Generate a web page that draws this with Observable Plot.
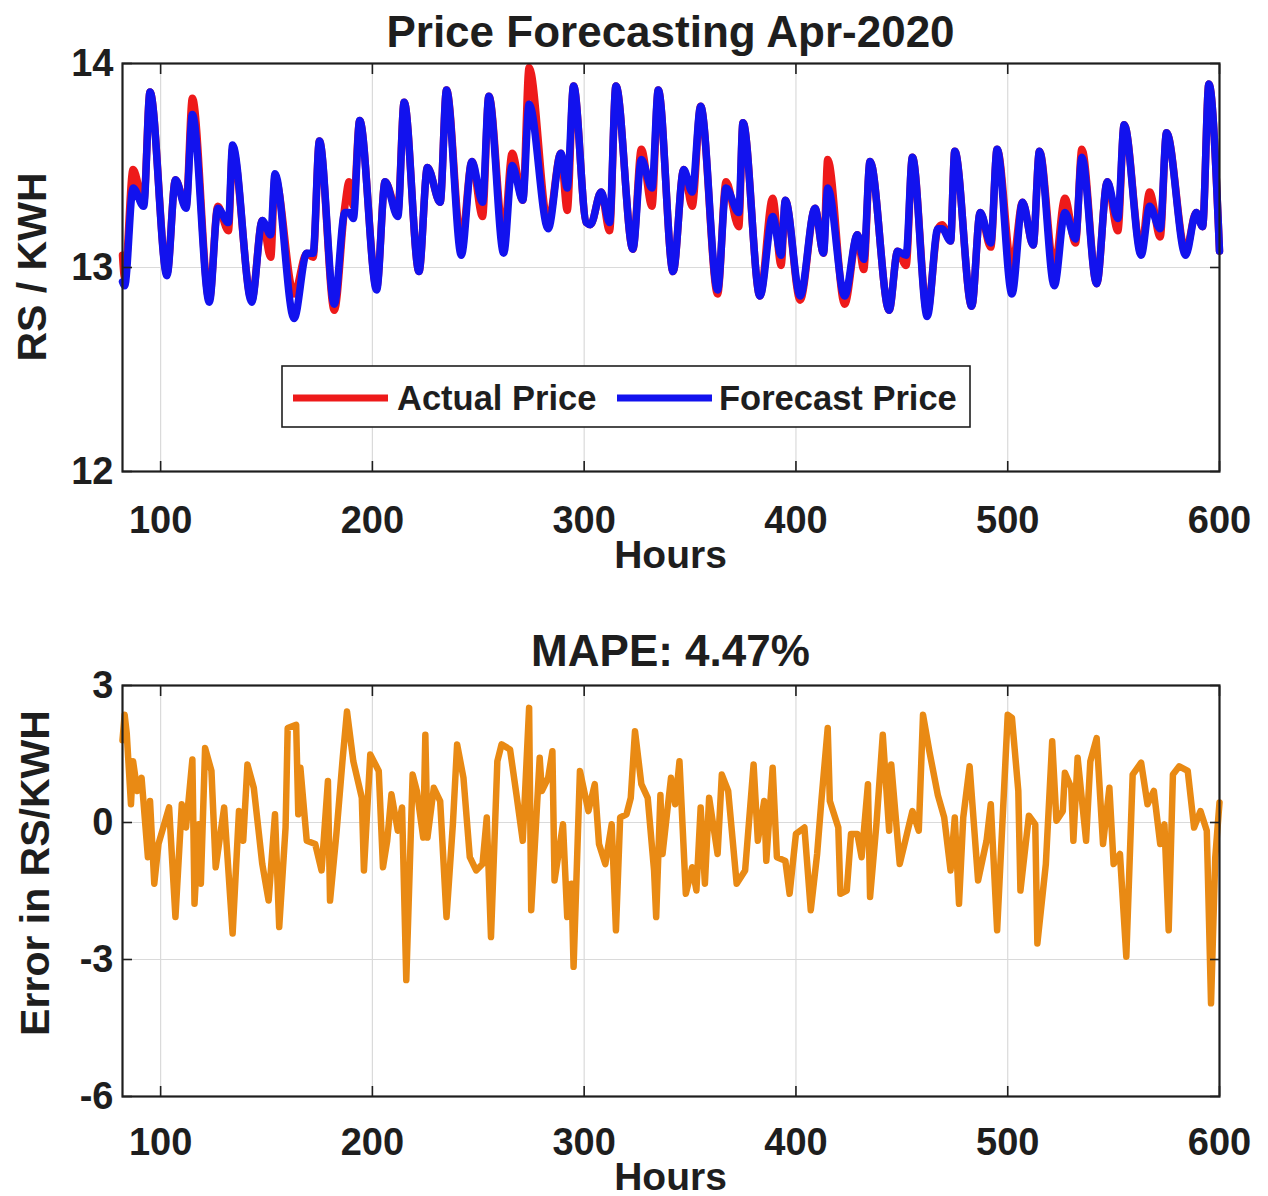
<!DOCTYPE html>
<html>
<head>
<meta charset="utf-8">
<script src="https://cdn.jsdelivr.net/npm/d3@7"></script>
<script src="https://cdn.jsdelivr.net/npm/@observablehq/plot@0.6"></script>
<style>
  body { margin: 0; background: #fff; }
  #chart { position: relative; width: 1268px; height: 1196px; background: #fff; }
  #chart svg { position: absolute; left: 0; }
</style>
</head>
<body>
<div id="chart"></div>
<script>
// Hourly price series, April 2020 (hours from start of month)
const hours = [82,83,87,92,95,103,107,112,115,123,127,132,134,143,148,152,154,163,169,172,175,182,187,189,191,194,202,206,212,215,222,226,232,235,242,247,252,255,262,266,271,274,283,289,292,295,301,303,308,312,315,323,327,332,335,342,347,351,355,363,367,373,375,383,389,393,395,402,409,413,415,423,429,432,435,444,448,452,455,462,467,469,473,475,483,487,492,495,502,507,512,515,522,527,532,535,542,547,552,555,563,567,572,575,584,589,592,595,600];

const forecastPrice = [12.93,12.91,13.39,13.30,13.86,12.96,13.43,13.29,13.75,12.83,13.29,13.22,13.60,12.83,13.23,13.16,13.46,12.75,13.07,13.07,13.62,12.82,13.27,13.27,13.24,13.72,12.89,13.42,13.25,13.81,12.98,13.49,13.32,13.87,13.06,13.52,13.32,13.84,13.07,13.50,13.33,13.80,13.19,13.56,13.39,13.89,13.22,13.21,13.37,13.22,13.89,13.09,13.53,13.39,13.87,12.98,13.48,13.37,13.79,12.89,13.39,13.27,13.71,12.86,13.25,13.06,13.33,12.86,13.29,13.07,13.39,12.86,13.16,13.04,13.52,12.79,13.08,13.06,13.54,12.76,13.19,13.19,13.13,13.57,12.81,13.27,13.12,13.58,12.87,13.32,13.11,13.57,12.91,13.27,13.14,13.54,12.92,13.42,13.24,13.70,13.06,13.30,13.19,13.66,13.06,13.27,13.20,13.90,13.08];

const actualPrice = [13.06,12.95,13.48,13.32,13.86,12.97,13.43,13.30,13.83,12.84,13.30,13.18,13.58,12.84,13.23,13.05,13.44,12.87,13.07,13.05,13.62,12.79,13.30,13.42,13.30,13.72,12.90,13.42,13.27,13.81,12.98,13.49,13.32,13.87,13.12,13.52,13.25,13.84,13.15,13.56,13.33,13.98,13.22,13.56,13.28,13.89,13.22,13.21,13.37,13.18,13.89,13.09,13.58,13.30,13.87,12.98,13.48,13.30,13.79,12.87,13.42,13.20,13.71,12.86,13.34,13.01,13.33,12.84,13.29,13.07,13.53,12.82,13.16,12.99,13.52,12.79,13.08,13.01,13.54,12.78,13.19,13.21,13.13,13.57,12.81,13.27,13.10,13.58,13.00,13.32,13.11,13.57,12.99,13.34,13.12,13.58,12.92,13.42,13.18,13.70,13.08,13.37,13.15,13.66,13.08,13.27,13.20,13.90,13.08];

// Forecast error (RS/KWH)
const errorHours = [82,83,84,86,87,89,91,94,95,97,99,104,107,110,112,115,116,118,119,121,124,126,130,134,137,139,141,144,148,151,154,156,159,160,164,165,166,169,173,176,179,180,183,186,188,191,195,196,199,203,205,207,209,212,214,216,219,221,224,225,226,229,232,235,238,240,243,246,249,252,254,256,259,261,265,268,271,274,275,279,280,283,285,286,290,292,294,295,298,302,305,307,310,313,315,317,320,322,324,327,330,333,334,336,337,341,343,345,348,351,353,355,357,359,363,365,368,372,376,380,382,385,386,389,391,395,397,400,404,407,410,412,415,416,420,421,424,426,429,431,434,435,438,441,444,445,449,452,455,458,460,463,467,470,473,475,477,479,482,486,490,492,495,500,502,505,506,510,513,514,518,521,523,526,527,530,531,533,537,539,542,545,548,550,553,556,559,563,566,569,572,574,576,578,581,585,588,591,594,596,598,600];

const errorValues = [1.80,2.36,1.95,0.40,1.34,0.69,0.98,-0.76,0.47,-1.34,-0.47,0.33,-2.07,0.40,-0.11,1.38,-1.78,-0.04,-1.34,1.63,1.13,-0.98,0.33,-2.43,0.25,-0.40,1.27,0.76,-0.91,-1.71,0.18,-2.29,-0.11,2.07,2.14,0.18,1.20,-0.40,-0.47,-1.05,0.91,-1.71,-0.25,1.42,2.43,1.34,0.54,-1.05,1.49,1.13,-0.98,-0.40,0.62,-0.18,0.33,-3.45,1.05,0.69,-0.33,1.92,-0.33,0.76,0.47,-2.07,-0.04,1.71,0.98,-0.76,-1.05,-0.91,0.11,-2.51,1.34,1.71,1.60,0.62,-0.40,2.51,-1.92,1.42,0.69,0.98,1.56,-1.27,-0.04,-2.07,-1.34,-3.16,1.13,0.25,0.84,-0.47,-0.91,-0.04,-2.36,0.11,0.18,0.54,2.00,0.84,0.54,-1.05,-2.07,0.60,-0.69,0.98,0.40,1.34,-1.56,-0.98,-1.49,0.33,-1.34,0.54,-0.69,1.05,0.69,-1.34,-1.05,1.27,-0.40,0.47,-0.84,1.20,-0.76,-0.84,-1.56,-0.25,-0.11,-1.92,-0.69,0.47,2.07,0.47,-0.11,-1.56,-1.49,-0.25,-0.25,-0.76,0.84,-1.63,-0.04,1.92,-0.18,1.27,-0.91,-0.33,0.25,-0.18,2.36,1.56,0.60,0.11,-1.05,0.11,-1.78,0.11,1.23,-1.27,-0.40,0.40,-2.36,2.36,2.29,0.69,-1.49,0.15,-0.04,-2.65,-0.91,1.78,0.04,0.25,1.09,0.76,-0.40,1.42,-0.40,1.34,1.85,-0.47,0.76,-0.91,-0.69,-2.94,1.05,1.31,0.40,0.69,-0.47,-0.04,-2.36,1.05,1.23,1.13,-0.11,0.25,-0.18,-3.96,-0.76,0.44];

const hourTicks = [100, 200, 300, 400, 500, 600];
const priceTicks = [12, 13, 14];
const errorTicks = [-6, -3, 0, 3];
const mapeLabel = "MAPE: 4.47%";

const prices = hours.map((h, i) => ({hour: h, actual: actualPrice[i], forecast: forecastPrice[i]}));
const errors = errorHours.map((h, i) => ({hour: h, error: errorValues[i]}));

const FONT = '"Liberation Sans", Arial, Helvetica, sans-serif';
const INK = "#1e1e1e";
const W = 1268;
const plain = d => String(d);   // integer labels with an ASCII hyphen for negatives

// grid, inward ticks on all four sides, bold tick labels, black box
function frameMarks(yTicks, xPad) {
  const inward = {tickSize: -10, tickFormat: () => "", label: null, strokeWidth: 1.6};
  return {
    under: [
      Plot.gridX(hourTicks, {stroke: "#dadada", strokeOpacity: 1, strokeWidth: 1.2}),
      Plot.gridY(yTicks, {stroke: "#dadada", strokeOpacity: 1, strokeWidth: 1.2})
    ],
    over: [
      Plot.frame({stroke: INK, strokeWidth: 2.2}),
      Plot.axisX({ticks: hourTicks, anchor: "bottom", ...inward}),
      Plot.axisX({ticks: hourTicks, anchor: "top", ...inward}),
      Plot.axisY({ticks: yTicks, anchor: "left", ...inward}),
      Plot.axisY({ticks: yTicks, anchor: "right", ...inward}),
      Plot.axisX({ticks: hourTicks, anchor: "bottom", tickSize: 0, tickPadding: xPad, tickFormat: plain, fontSize: 38, fontWeight: "bold", label: null}),
      Plot.axisY({ticks: yTicks, anchor: "left", tickSize: 0, tickPadding: 9, tickFormat: plain, fontSize: 38, fontWeight: "bold", label: null})
    ]
  };
}

function addText(svg, str, x, y, size, opts = {}) {
  const t = d3.select(svg).append("text")
    .attr("x", x).attr("y", y)
    .attr("text-anchor", opts.anchor || "middle")
    .attr("font-family", FONT)
    .attr("font-weight", "bold")
    .attr("font-size", size)
    .attr("fill", INK)
    .text(str);
  if (opts.rotate) t.attr("transform", `rotate(${opts.rotate},${x},${y})`);
  return t;
}

// ---- Price panel ----
const f1 = frameMarks(priceTicks, 35);
const pricePlot = Plot.plot({
  width: W, height: 600,
  marginTop: 63, marginBottom: 129, marginLeft: 122, marginRight: 49,
  style: {fontFamily: FONT, color: INK, background: "transparent", overflow: "visible"},
  x: {domain: [82, 600]},
  y: {domain: [12, 14]},
  marks: [
    ...f1.under,
    Plot.line(prices, {x: "hour", y: "actual", stroke: "#ee1a1a", strokeWidth: 7.5, curve: "monotone-x"}),
    Plot.line(prices, {x: "hour", y: "forecast", stroke: "#1212ee", strokeWidth: 7.5, curve: "monotone-x"}),
    ...f1.over
  ]
});
pricePlot.style.top = "0px";

addText(pricePlot, "Price Forecasting Apr-2020", 670.5, 47, 44);
addText(pricePlot, "Hours", 670.5, 568, 39);
addText(pricePlot, "RS / KWH", 46, 267, 41, {rotate: -90});

// legend box
const lg = d3.select(pricePlot).append("g");
lg.append("rect").attr("x", 282).attr("y", 366).attr("width", 688).attr("height", 61)
  .attr("fill", "#fff").attr("stroke", INK).attr("stroke-width", 1.6);
lg.append("line").attr("x1", 293).attr("x2", 388).attr("y1", 398).attr("y2", 398)
  .attr("stroke", "#ee1a1a").attr("stroke-width", 7);
lg.append("line").attr("x1", 617).attr("x2", 712).attr("y1", 398).attr("y2", 398)
  .attr("stroke", "#1212ee").attr("stroke-width", 7);
addText(pricePlot, "Actual Price", 397, 410, 34.5, {anchor: "start"});
addText(pricePlot, "Forecast Price", 719, 410, 34.5, {anchor: "start"});

// ---- Error panel ----
const f2 = frameMarks(errorTicks, 32);
const errorPlot = Plot.plot({
  width: W, height: 596,
  marginTop: 85, marginBottom: 100, marginLeft: 122, marginRight: 49,
  style: {fontFamily: FONT, color: INK, background: "transparent", overflow: "visible"},
  x: {domain: [82, 600]},
  y: {domain: [-6, 3]},
  marks: [
    ...f2.under,
    Plot.line(errors, {x: "hour", y: "error", stroke: "#e98a14", strokeWidth: 6.5}),
    ...f2.over
  ]
});
errorPlot.style.top = "600px";

addText(errorPlot, mapeLabel, 670.5, 66, 44);
addText(errorPlot, "Hours", 670.5, 590, 39);
addText(errorPlot, "Error in RS/KWH", 49, 273, 41, {rotate: -90});

const chart = document.getElementById("chart");
chart.appendChild(pricePlot);
chart.appendChild(errorPlot);
</script>
</body>
</html>
